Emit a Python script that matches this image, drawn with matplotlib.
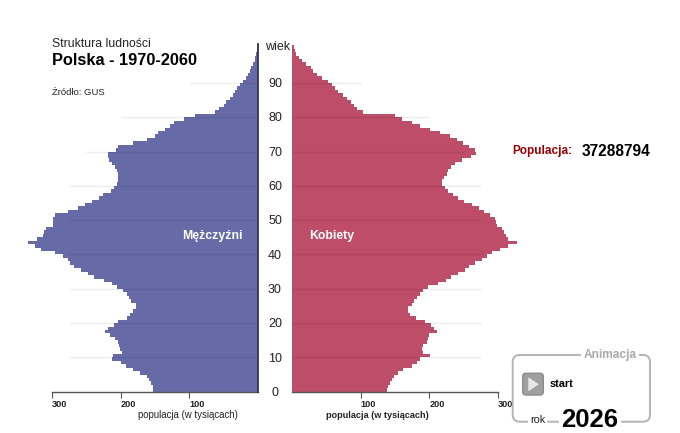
import numpy as np
import matplotlib
matplotlib.use('Agg')
import matplotlib.pyplot as plt
from matplotlib.patches import FancyBboxPatch, Polygon
from matplotlib.transforms import blended_transform_factory, ScaledTranslation

plt.rcParams['font.family'] = ['Liberation Sans', 'DejaVu Sans']

# ---------------- data ----------------
ages = np.arange(0, 101)
male = [153, 153, 156, 159, 161, 172, 182, 192, 200, 213,
        211, 198, 201, 203, 204, 208, 216, 222, 218, 210,
        204, 190, 186, 182, 177, 177, 185, 188, 191, 196,
        205, 212, 224, 238, 248, 258, 268, 274, 277, 284,
        296, 316, 325, 335, 322, 313, 311, 308, 298, 298,
        298, 295, 276, 262, 252, 242, 232, 226, 214, 209,
        205, 204, 204, 204, 205, 208, 212, 217, 219, 218,
        206, 204, 182, 162, 150, 145, 136, 128, 122, 108,
        92, 62, 57, 50, 46, 41, 37, 33, 30, 26,
        22, 18, 15, 12, 10, 7, 5, 4, 3, 2, 1]
female = [139, 140, 142, 146, 148, 155, 162, 175, 182, 186,
          201, 191, 189, 190, 196, 198, 200, 211, 207, 203,
          194, 180, 172, 169, 169, 174, 177, 182, 186, 191,
          198, 213, 224, 232, 242, 252, 258, 266, 276, 284,
          291, 303, 315, 327, 314, 312, 308, 305, 298, 297,
          295, 288, 280, 272, 262, 250, 242, 234, 227, 223,
          218, 219, 221, 225, 227, 232, 237, 247, 260, 268,
          266, 258, 249, 240, 230, 215, 201, 186, 174, 160,
          150, 104, 95, 90, 86, 80, 74, 67, 62, 58,
          52, 43, 36, 31, 27, 21, 15, 10, 6, 4, 3]
age_ticks = [0, 10, 20, 30, 40, 50, 60, 70, 80, 90]
x_ticks = [100, 200, 300]
grid_ages = [10, 20, 30, 40, 50, 60, 70, 80, 90]
grid_len = [275, 275, 275, 275, 275, 275, 250, 200, 100]
title = 'Struktura ludności'
subtitle = 'Polska - 1970-2060'
source = 'Źródło: GUS'
male_label = 'Mężczyźni'
female_label = 'Kobiety'
x_label = 'populacja (w tysiącach)'
pop_label = 'Populacja:'
population = '37288794'
year = '2026'

# ---------------- style ----------------
MALE = '#666aa6'
FEMALE = '#bd4d68'
W, H = 680, 433
XMAX = 375
PX_UNIT = 0.687
PX_YEAR = 3.43
YMAX = 101.5
BASE_Y = 391.7

fig = plt.figure(figsize=(W / 100, H / 100), dpi=100)
fig.patch.set_facecolor('white')

ax_w = XMAX * PX_UNIT
ax_h = YMAX * PX_YEAR
axL = fig.add_axes([(258 - ax_w) / W, (H - BASE_Y) / H, ax_w / W, ax_h / H])
axR = fig.add_axes([292 / W, (H - BASE_Y) / H, ax_w / W, ax_h / H])

edges = np.append(ages, ages[-1] + 1)
axL.stairs(male, edges, orientation='horizontal', fill=True, color=MALE,
           baseline=0, zorder=2)
axR.stairs(female, edges, orientation='horizontal', fill=True, color=FEMALE,
           baseline=0, zorder=2)

axL.set_xlim(XMAX, 0)
axR.set_xlim(0, XMAX)
for ax in (axL, axR):
    ax.set_ylim(0, YMAX)
    ax.patch.set_visible(False)
    ax.set_yticks([])
    ax.spines['top'].set_visible(False)
    ax.spines['bottom'].set_bounds(0, 300)
    ax.spines['bottom'].set_color('#555555')
    ax.spines['bottom'].set_linewidth(1.0)
    ax.set_xticks(x_ticks)
    ax.set_xticklabels([str(t) for t in x_ticks], ha='left',
                       fontsize=6.6, fontweight='bold', color='#222222')
    ax.tick_params(axis='x', direction='out', length=4, width=0.8,
                   color='#555555', pad=2.2)

axL.spines['left'].set_visible(False)
axL.spines['right'].set_color('#34344f')
axL.spines['right'].set_linewidth(1.3)
axL.spines['right'].set_zorder(5)
axR.spines['left'].set_visible(False)
axR.spines['right'].set_visible(False)

axL.hlines(grid_ages, 0, grid_len, color='black', alpha=0.07, lw=1, zorder=3)
axR.hlines(grid_ages, 0, grid_len, color='black', alpha=0.07, lw=1, zorder=3)

# age labels between the halves
ytrans = blended_transform_factory(fig.transFigure, axL.transData) + \
    ScaledTranslation(0, -0.042, fig.dpi_scale_trans)
for a in age_ticks:
    fig.text(275 / W, a, str(a), transform=ytrans, ha='center', va='baseline',
             fontsize=9, color='#222222')

# decoration layer in pixel coordinates
deco = fig.add_axes([0, 0, 1, 1])
deco.set_xlim(0, W)
deco.set_ylim(H, 0)
deco.axis('off')
deco.patch.set_visible(False)

deco.text(265, 50, 'wiek', fontsize=9, ha='left', va='baseline', color='#222222')
deco.text(52, 47.3, title, fontsize=8.8, ha='left', va='baseline', color='#222222')
deco.text(52, 65, subtitle, fontsize=11.8, fontweight='bold', ha='left',
          va='baseline', color='black')
deco.text(52, 95, source, fontsize=6.8, ha='left', va='baseline', color='#222222')

deco.text(212, 239.3, male_label, fontsize=8.8, fontweight='bold', color='white',
          ha='center', va='baseline')
deco.text(309, 239.3, female_label, fontsize=8.8, fontweight='bold', color='white',
          ha='left', va='baseline')

deco.text(188, 418.3, x_label, fontsize=6.9, ha='center', va='baseline',
          color='#222222')
deco.text(377, 418.3, x_label, fontsize=6.6, fontweight='bold', ha='center',
          va='baseline', color='#222222')

deco.text(512.7, 154, pop_label, fontsize=8.5, fontweight='bold', color='#990000',
          ha='left', va='baseline')
deco.text(581.7, 155.5, population, fontsize=11.2, fontweight='bold', color='black',
          ha='left', va='baseline')

# animation box
box = FancyBboxPatch((512.7, 355), 137.3, 66.7,
                     boxstyle='round,pad=0,rounding_size=7',
                     fc='none', ec='#b4b4b4', lw=1.4)
deco.add_patch(box)
deco.text(610, 357.8, 'Animacja', fontsize=8.6, fontweight='bold', color='#aaaaaa',
          ha='center', va='baseline',
          bbox=dict(facecolor='white', edgecolor='none', pad=1.5))
btn = FancyBboxPatch((522.7, 373.3), 20.6, 21.7,
                     boxstyle='round,pad=0,rounding_size=3',
                     fc='#a0a0a0', ec='#8a8a8a', lw=1)
deco.add_patch(btn)
deco.add_patch(Polygon([(528.3, 377.3), (528.3, 391.2), (539.0, 384.2)],
                       closed=True, fc='#e6e6e6', ec='none'))
deco.text(549.3, 387.3, 'start', fontsize=7.8, fontweight='bold', color='black',
          ha='left', va='baseline')
deco.text(530, 423, 'rok', fontsize=7.8, color='#222222', ha='left', va='baseline',
          bbox=dict(facecolor='white', edgecolor='none', pad=1.2))
deco.text(561.5, 427.3, year, fontsize=18.5, fontweight='bold', color='black',
          ha='left', va='baseline',
          bbox=dict(facecolor='white', edgecolor='none', pad=1.5))

fig.savefig('out.png', dpi=100, facecolor='white')
